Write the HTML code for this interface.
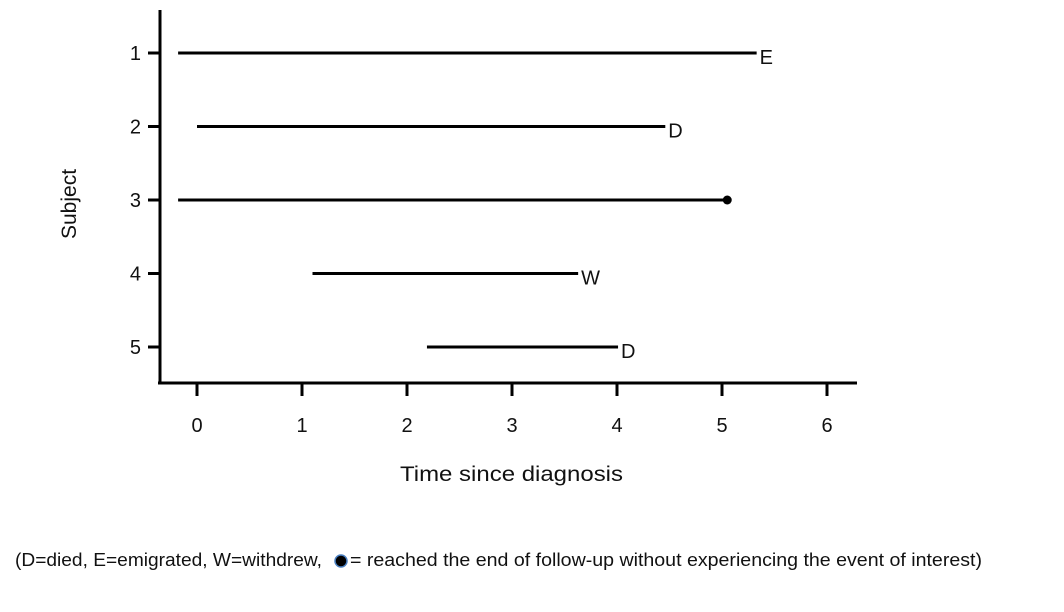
<!DOCTYPE html>
<html><head><meta charset="utf-8"><style>
html,body{margin:0;padding:0;background:#fff;}
svg{display:block;font-family:"Liberation Sans",sans-serif;}
</style></head><body>
<svg id="chart" width="1064" height="612">
<line x1="160" y1="10" x2="160" y2="383" stroke="#000" stroke-width="3"/>
<line x1="158" y1="383" x2="857" y2="383" stroke="#000" stroke-width="3"/>
<g id="xt"></g><g id="yt"></g><g id="marks"></g>
<text x="400" y="481" font-size="21" textLength="223" lengthAdjust="spacingAndGlyphs" fill="#111">Time since diagnosis</text>
<text transform="translate(76,204) rotate(-90)" font-size="21" text-anchor="middle" fill="#111">Subject</text>
<g>
<text x="15" y="566" font-size="18" textLength="307" lengthAdjust="spacingAndGlyphs" fill="#111">(D=died, E=emigrated, W=withdrew,</text>
<circle cx="341" cy="561" r="6" fill="#000" stroke="#4a7fc0" stroke-width="1.5"/>
<text x="350" y="566" font-size="18" textLength="632" lengthAdjust="spacingAndGlyphs" fill="#111">= reached the end of follow-up without experiencing the event of interest)</text>
</g>
</svg>
<script>
const subjects=[1,2,3,4,5];
const starts=[-0.18,0,-0.18,1.1,2.19];
const ends=[5.33,4.46,5.05,3.63,4.01];
const outcomes=["E","D","dot","W","D"];
const xTicks=[0,1,2,3,4,5,6];
const NS="http://www.w3.org/2000/svg";
const sx=v=>197+v*105;
const sy=s=>53+(s-1)*73.5;
function mk(t,a,p){const e=document.createElementNS(NS,t);for(const k in a)e.setAttribute(k,a[k]);p.appendChild(e);return e;}
const xt=document.getElementById('xt'),yt=document.getElementById('yt'),m=document.getElementById('marks');
xTicks.forEach(v=>{
 const l=mk('line',{x1:sx(v),x2:sx(v),y1:383,y2:396,stroke:'#000','stroke-width':3},xt);
 
 
 const t=mk('text',{x:sx(v),y:432,'font-size':20,'text-anchor':'middle',fill:'#111'},xt);t.textContent=v;
 
 
});
subjects.forEach((s,i)=>{
 const l=mk('line',{x1:148,x2:160,y1:sy(s),y2:sy(s),stroke:'#000','stroke-width':3},yt);
 
 
 const t=mk('text',{x:141,y:sy(s)+7,'font-size':20,'text-anchor':'end',fill:'#111'},yt);t.textContent=s;
 
 
 const seg=mk('line',{x1:sx(starts[i]),x2:sx(ends[i]),y1:sy(s),y2:sy(s),stroke:'#000','stroke-width':3},m);
 
 
 if(outcomes[i]==='dot'){
  const c=mk('circle',{cx:sx(ends[i]),cy:sy(s),r:4.5,fill:'#000'},m);
  
  
 }else{
  const t2=mk('text',{x:sx(ends[i])+3,y:sy(s)+11,'font-size':20,fill:'#111'},m);t2.textContent=outcomes[i];
  
  
 }
});
</script>
</body></html>
